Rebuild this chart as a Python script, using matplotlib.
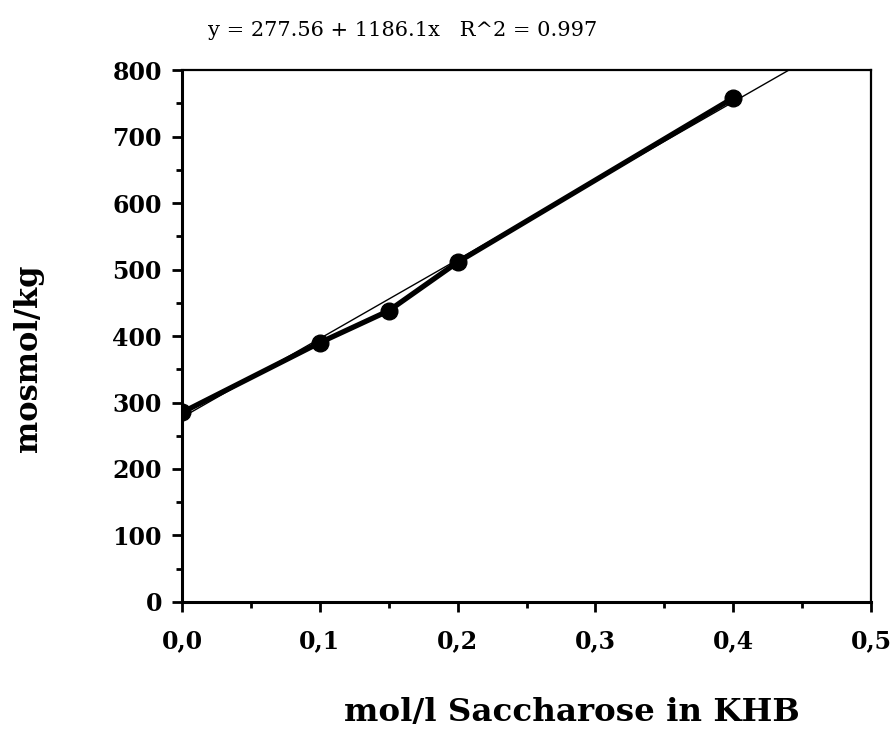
import numpy as np
import matplotlib.pyplot as plt
from matplotlib.ticker import MultipleLocator, FuncFormatter

# Messwerte
conc = [0.0, 0.1, 0.15, 0.2, 0.4]
osmo = [285, 390, 438, 511, 758]

# Regressionsgerade
a = 277.56
b = 1186.1
r2 = 0.997
fit_x = [0.0, 0.44]

fig = plt.figure(figsize=(8.94, 7.38), dpi=100)
ax = fig.add_axes([0.2036, 0.1843, 0.7707, 0.7208])

fx = np.array(fit_x)
ax.plot(fx, a + b * fx, color='black', linewidth=1.0, zorder=2)
ax.plot(conc, osmo, color='black', linewidth=3.8, marker='o', markersize=12, zorder=3)

ax.set_xlim(0, 0.5)
ax.set_ylim(0, 800)
ax.xaxis.set_major_locator(MultipleLocator(0.1))
ax.xaxis.set_minor_locator(MultipleLocator(0.05))
ax.yaxis.set_major_locator(MultipleLocator(100))
ax.yaxis.set_minor_locator(MultipleLocator(50))
ax.xaxis.set_major_formatter(FuncFormatter(lambda v, p: ('%.1f' % v).replace('.', ',')))

bold = {'family': 'DejaVu Serif', 'weight': 'bold'}
ax.tick_params(which='major', direction='out', length=7.5, width=2)
ax.tick_params(which='minor', direction='out', length=4.5, width=2)
ax.tick_params(axis='x', which='major', pad=12)
ax.tick_params(axis='y', which='major', pad=7)
for lab in ax.get_xticklabels() + ax.get_yticklabels():
    lab.set_fontfamily('DejaVu Serif')
    lab.set_fontweight('heavy')
    lab.set_fontsize(17)

for s in ['left', 'bottom']:
    ax.spines[s].set_linewidth(2.2)
for s in ['top', 'right']:
    ax.spines[s].set_linewidth(1.6)

fig.text(0.45, 0.958, 'y = %.2f + %.1fx   R^2 = %.3f' % (a, b, r2),
         ha='center', va='center', fontsize=15, family='DejaVu Serif')
fig.text(0.64, 0.035, 'mol/l Saccharose in KHB', ha='center', va='center',
         fontsize=23.4, **bold)
fig.text(0.032, 0.515, 'mosmol/kg', ha='center', va='center', rotation=90,
         fontsize=22, **bold)

fig.savefig('out.png', dpi=100)
